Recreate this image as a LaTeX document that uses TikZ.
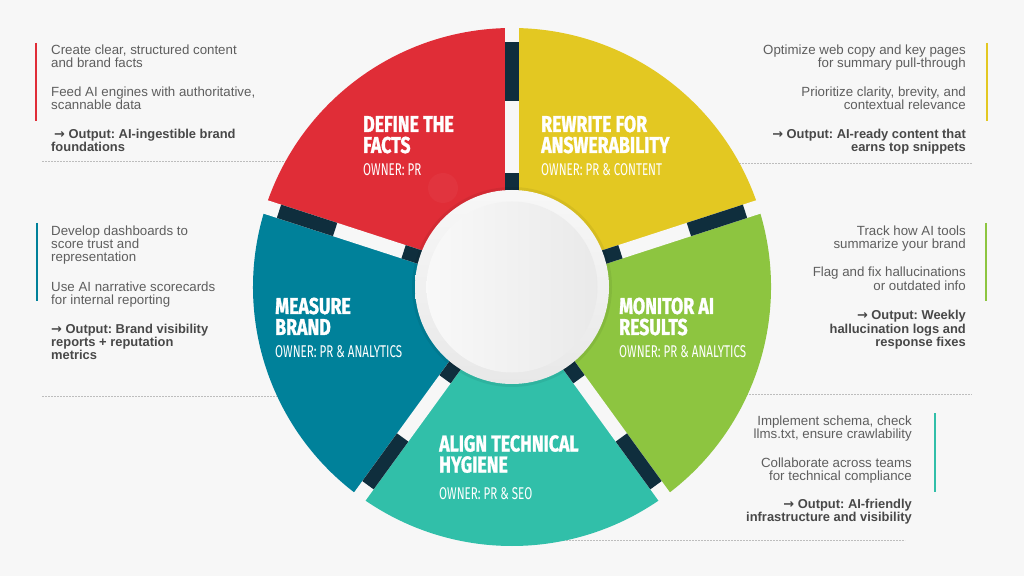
\documentclass[tikz,border=0pt]{standalone}
\usepackage{fontspec}
\setmainfont{Liberation Sans}
\newfontfamily\ttlfont[FakeStretch=0.77, BoldFeatures={FakeBold=1.2}]{Fira Sans}
\newfontfamily\ownfont[FakeStretch=0.68]{Fira Sans}
\newfontfamily\arrowfont{DejaVu Sans}
\usetikzlibrary{calc}
\definecolor{bg}{HTML}{F7F7F7}
\definecolor{cred}{HTML}{E02D37}
\definecolor{cyel}{HTML}{E3C822}
\definecolor{cblue}{HTML}{00819A}
\definecolor{cgreen}{HTML}{8DC540}
\definecolor{cteal}{HTML}{31BFA9}
\definecolor{gapdark}{HTML}{0F2E3D}
\definecolor{txtgray}{HTML}{5E5E5E}
\definecolor{txtdark}{HTML}{484848}
\definecolor{sepgray}{HTML}{BDBDBD}
\frenchspacing
\tikzset{
  bodyL/.style={anchor=base west, inner sep=0pt, text=txtgray, font=\fontsize{13.3}{13}\selectfont},
  bodyR/.style={anchor=base east, inner sep=0pt, text=txtgray, font=\fontsize{13.3}{13}\selectfont},
  boldL/.style={anchor=base west, inner sep=0pt, text=txtdark, font=\fontsize{12.9}{13}\selectfont\bfseries},
  boldR/.style={anchor=base east, inner sep=0pt, text=txtdark, font=\fontsize{12.9}{13}\selectfont\bfseries},
  ttl/.style={anchor=base west, inner sep=0pt, text=white, font=\ttlfont\bfseries\fontsize{23}{21}\selectfont},
  own/.style={anchor=base west, inner sep=0pt, text=white, font=\ownfont\fontsize{17}{17}\selectfont},
  sepline/.style={draw=sepgray, line width=0.7pt, dash pattern=on 2pt off 1pt},
  sidebar/.style={line width=2pt},
}
\newcommand\TX[5]{\node[#1] (#2) at (#3,576-#4) {#5};}
\newcommand\arr{{\arrowfont →}}
\begin{document}
\begin{tikzpicture}[x=1pt,y=1pt]
\fill[bg] (0,0) rectangle (1024,576);
\useasboundingbox (0,0) rectangle (1024,576);

% separator lines (behind wheel)
\draw[sepline] (42,415) -- (300,415);
\draw[sepline] (730,413) -- (972,413);
\draw[sepline] (42,180) -- (290,180);
\draw[sepline] (740,182) -- (972,182);
\draw[sepline] (560,36) -- (905,36);

% side bars
\draw[sidebar, cred] (36,533) -- (36,455);
\draw[sidebar, cyel] (987,533) -- (987,455);
\draw[sidebar, cblue] (37,353) -- (37,275);
\draw[sidebar, cgreen] (986,353) -- (986,275);
\draw[sidebar, cteal] (935,163) -- (935,84);

% wheel
\coordinate (c) at (512,289);
\def\R{259}
\fill[cred] (c) -- ++(90:\R) arc[start angle=90, end angle=162, radius=\R] -- cycle;
\fill[cblue] (c) -- ++(162:\R) arc[start angle=162, end angle=234, radius=\R] -- cycle;
\fill[cteal] (c) -- ++(234:\R) arc[start angle=234, end angle=306, radius=\R] -- cycle;
\fill[cgreen] (c) -- ++(306:\R) arc[start angle=306, end angle=378, radius=\R] -- cycle;
\fill[cyel] (c) -- ++(18:\R) arc[start angle=18, end angle=90, radius=\R] -- cycle;
\foreach \a in {18,90,162,234,306}{
  \begin{scope}[shift={(c)}, rotate=\a]
    \fill[bg] (0,-7) rectangle (\R+3,7);
    \fill[gapdark] (186,-7) rectangle (245,7);
    \fill[gapdark] (88,-7) rectangle (114,7);
  \end{scope}
}
\fill[white, opacity=0.035] (443,388) circle (15);

% center disc
\fill[black, opacity=0.06] (c) circle (100);
\shade[top color=gray!6, bottom color=gray!18] (c) circle (97);
\shade[shading angle=45, left color=gray!5, right color=gray!17] (c) circle (85.5);

% titles
\node[ttl] (t1a) at (363,576-132) {DEFINE THE};
\node[ttl] (t1b) at (363,576-153) {FACTS};
\node[own] (o1) at (363,576-176) {OWNER: PR};
\node[ttl] (t2a) at (541,576-132) {REWRITE FOR};
\node[ttl] (t2b) at (541,576-153) {ANSWERABILITY};
\node[own] (o2) at (541,576-176) {OWNER: PR \& CONTENT};
\node[ttl] (t3a) at (275,576-314) {MEASURE};
\node[ttl] (t3b) at (275,576-335) {BRAND};
\node[own] (o3) at (275,576-357) {OWNER: PR \& ANALYTICS};
\node[ttl] (t4a) at (619,576-314) {MONITOR AI};
\node[ttl] (t4b) at (619,576-335) {RESULTS};
\node[own] (o4) at (619,576-357) {OWNER: PR \& ANALYTICS};
\node[ttl] (t5a) at (439,576-451.5) {ALIGN TECHNICAL};
\node[ttl] (t5b) at (439,576-472.5) {HYGIENE};
\node[own] (o5) at (439,576-499) {OWNER: PR \& SEO};

% top-left block
\TX{bodyL}{a1}{51}{55}{Create clear, structured content}
\TX{bodyL}{a2}{51}{68}{and brand facts}
\TX{bodyL}{a3}{51}{97}{Feed AI engines with authoritative,}
\TX{bodyL}{a4}{51}{110}{scannable data}
\TX{boldL}{a5}{54}{139}{\arr\ Output: AI-ingestible brand}
\TX{boldL}{a6}{51}{152}{foundations}

% top-right block
\TX{bodyR}{b1}{966}{55}{Optimize web copy and key pages}
\TX{bodyR}{b2}{966}{68}{for summary pull-through}
\TX{bodyR}{b3}{966}{97}{Prioritize clarity, brevity, and}
\TX{bodyR}{b4}{966}{110}{contextual relevance}
\TX{boldR}{b5}{966}{139}{\arr\ Output: AI-ready content that}
\TX{boldR}{b6}{966}{152}{earns top snippets}

% middle-left block
\TX{bodyL}{c1}{51}{236}{Develop dashboards to}
\TX{bodyL}{c2}{51}{249}{score trust and}
\TX{bodyL}{c3}{51}{262}{representation}
\TX{bodyL}{c4}{51}{292}{Use AI narrative scorecards}
\TX{bodyL}{c5}{51}{305}{for internal reporting}
\TX{boldL}{c6}{51}{333}{\arr\ Output: Brand visibility}
\TX{boldL}{c7}{51}{346}{reports + reputation}
\TX{boldL}{c8}{51}{359}{metrics}

% middle-right block
\TX{bodyR}{d1}{966}{236}{Track how AI tools}
\TX{bodyR}{d2}{966}{249}{summarize your brand}
\TX{bodyR}{d3}{966}{277}{Flag and fix hallucinations}
\TX{bodyR}{d4}{966}{291}{or outdated info}
\TX{boldR}{d5}{966}{320}{\arr\ Output: Weekly}
\TX{boldR}{d6}{966}{333}{hallucination logs and}
\TX{boldR}{d7}{966}{346}{response fixes}

% bottom-right block
\TX{bodyR}{e1}{912}{425}{Implement schema, check}
\TX{bodyR}{e2}{912}{438}{llms.txt, ensure crawlability}
\TX{bodyR}{e3}{912}{467}{Collaborate across teams}
\TX{bodyR}{e4}{912}{480}{for technical compliance}
\TX{boldR}{e5}{912}{508}{\arr\ Output: AI-friendly}
\TX{boldR}{e6}{912}{521}{infrastructure and visibility}
\end{tikzpicture}
\end{document}
